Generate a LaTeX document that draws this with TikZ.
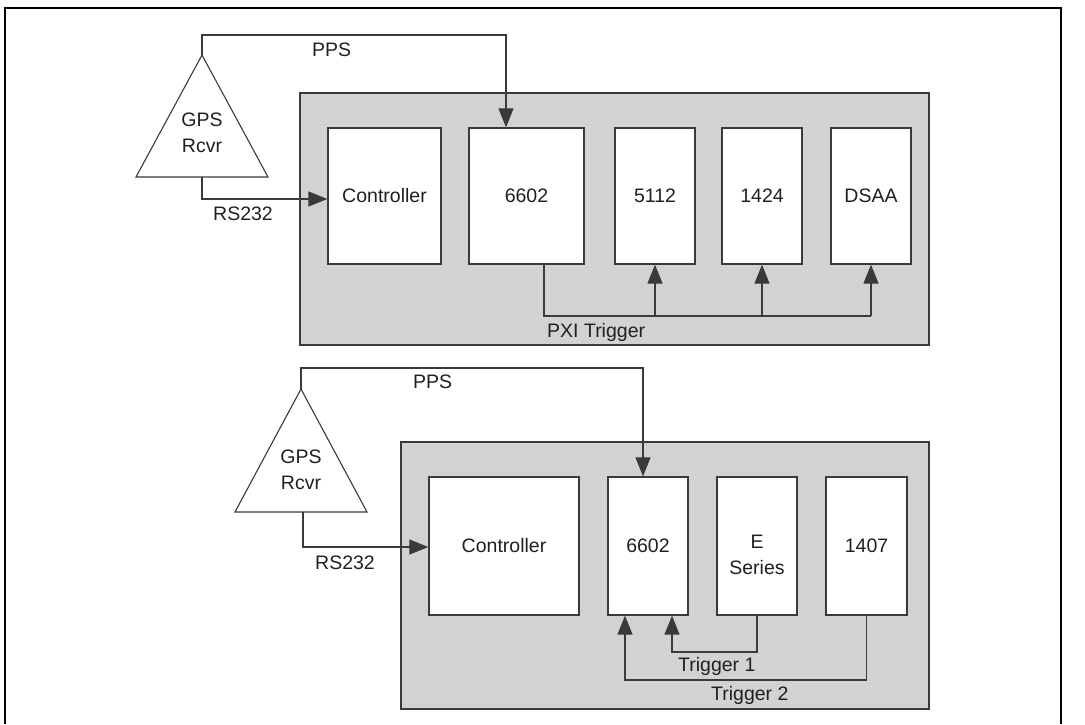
\documentclass[tikz,border=0pt]{standalone}
\usepackage{fontspec}
\setmainfont{Liberation Sans}
\usetikzlibrary{arrows.meta}
\definecolor{panelgray}{HTML}{D1D2D4}
\definecolor{edge}{HTML}{3A3A3A}
\definecolor{ink}{HTML}{231F20}
\tikzset{
  card/.style={draw=edge, fill=white, line width=1.3pt, inner sep=0pt, align=center, text=ink,
    font=\fontsize{19.5}{26}\selectfont, minimum height=136pt},
  panel/.style={draw=edge, fill=panelgray, line width=1.3pt},
  wire/.style={draw=edge, line width=1.1pt},
  arrowwire/.style={wire, -{Triangle[length=19pt,width=15pt]}},
  lbl/.style={font=\fontsize{19.5}{26}\selectfont, inner sep=0pt, text=ink},
  tri/.style={draw=edge, line width=1.1pt, fill=white}
}
\begin{document}
\begin{tikzpicture}[x=1pt,y=-1pt]
\useasboundingbox (0,0) rectangle (1085,724);
% outer frame
\draw[line width=2.5pt] (5,724) -- (5,8) -- (1061,8) -- (1061,724);

% ---------- top system ----------
\draw[panel] (300,93) rectangle (929,345);
\node[card, minimum width=113pt] (c1) at (384.5,196) {Controller};
\node[card, minimum width=115pt] (a1) at (526.5,196) {6602};
\node[card, minimum width=80pt] (b1) at (655,196) {5112};
\node[card, minimum width=80pt] (d1) at (762,196) {1424};
\node[card, minimum width=80pt] (e1) at (871,196) {DSAA};

\coordinate (apex1) at (202,55);
\coordinate (bl1) at (136,177);
\coordinate (br1) at (268,177);
\coordinate (base1) at (202,177);
\draw[tri] (bl1) -- (apex1) -- (br1) -- cycle;
\node[lbl, align=center] (g1) at (202,133) {GPS\\Rcvr};

\coordinate (p1) at (506,35);
\draw[arrowwire] (apex1) -- (apex1 |- p1) -- (p1) -- (p1 |- a1.north);
\node[lbl, anchor=west] (pps1) at (312,50) {PPS};

\coordinate (r1) at (202,199);
\draw[arrowwire] (base1) -- (r1) -- (r1 -| c1.west);
\node[lbl, anchor=west] (rs1) at (213,214) {RS232};

\coordinate (t1) at (544,316);
\draw[wire] (t1 |- a1.south) -- (t1) -- (t1 -| e1);
\draw[arrowwire] (t1 -| b1) -- (b1.south);
\draw[arrowwire] (t1 -| d1) -- (d1.south);
\draw[arrowwire] (t1 -| e1) -- (e1.south);
\node[lbl, anchor=west] (pxi) at (547,332) {PXI Trigger};

% ---------- bottom system ----------
\draw[panel] (401,442) rectangle (929,709);
\node[card, minimum width=150pt, minimum height=138pt] (c2) at (504,546) {Controller};
\node[card, minimum width=80pt, minimum height=138pt] (a2) at (648,546) {6602};
\node[card, minimum width=80pt, minimum height=138pt] (b2) at (757,546) {\rule{0pt}{32pt}E\\Series};
\node[card, minimum width=81pt, minimum height=138pt] (d2) at (866.5,546) {1407};

\coordinate (apex2) at (301,389);
\coordinate (bl2) at (235,512);
\coordinate (br2) at (367,512);
\coordinate (base2) at (303,512);
\draw[tri] (bl2) -- (apex2) -- (br2) -- cycle;
\node[lbl, align=center] (g2) at (301,470) {GPS\\Rcvr};

\coordinate (p2) at (643,368);
\draw[arrowwire] (apex2) -- (apex2 |- p2) -- (p2) -- (p2 |- a2.north);
\node[lbl, anchor=west] (pps2) at (413,382) {PPS};

\coordinate (r2) at (303,547);
\draw[arrowwire] (base2) -- (r2) -- (r2 -| c2.west);
\node[lbl, anchor=west] (rs2) at (315,563) {RS232};

\coordinate (u1) at (672,652);
\draw[arrowwire] (b2.south) |- (u1) -- (u1 |- a2.south);
\node[lbl, anchor=west] (tr1) at (678,666) {Trigger 1};

\coordinate (u2) at (625,680);
\draw[arrowwire] (d2.south) |- (u2) -- (u2 |- a2.south);
\node[lbl, anchor=west] (tr2) at (711,695) {Trigger 2};
\end{tikzpicture}
\end{document}
